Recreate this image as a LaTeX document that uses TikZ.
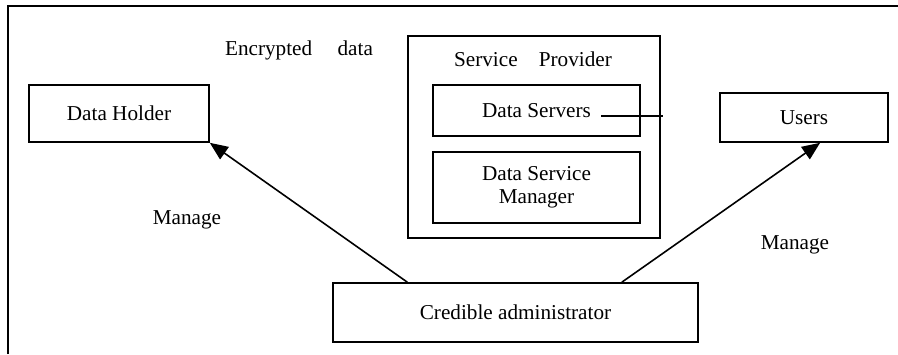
\documentclass[tikz,border=0pt]{standalone}
\usepackage{fontspec}
\setmainfont{Liberation Serif}
\usetikzlibrary{arrows.meta,calc}
\begin{document}
\begin{tikzpicture}[x=0.5pt,y=-0.5pt,
  every node/.style={font=\fontsize{10.6}{12.4}\selectfont, inner sep=0pt},
  box/.style={draw, line width=0.8pt, rectangle, align=center},
  arr/.style={line width=0.8pt, -{Triangle[length=9pt,width=7.5pt]}}]
\useasboundingbox (0,0) rectangle (898,354);
% outer frame (cut by the picture edge)
\coordinate (fbl) at (8,354);
\coordinate (ftl) at (8,6);
\coordinate (ftr) at (898,6);
\draw[line width=1pt] (fbl) -- (ftl) -- (ftr);
% service provider container
\node[box, minimum width=126pt, minimum height=101pt] (sp) at (534,137) {};
\node (sptext) at (533,59) {Service\hspace{1em}Provider};
\node[box, minimum width=103.5pt, minimum height=25.5pt] (ds) at (536.5,110.5) {Data Servers};
\node[box, minimum width=103.5pt, minimum height=35.5pt] (dsm) at (536.5,187.5) {Data Service\\[-1pt]Manager};
% other boxes
\node[box, minimum width=90pt, minimum height=28.5pt] (dh) at (119,113.5) {Data Holder};
\node[box, minimum width=84pt, minimum height=24.5pt] (users) at (804,117.5) {Users};
\node[box, minimum width=182.5pt, minimum height=29.5pt] (cred) at (515.5,312.5) {Credible administrator};
% labels
\node (enc) at (299,50) {Encrypted\hspace{1.2em}data};
\node (m1) at (187,220) {Manage};
\node (m2) at (795,245) {Manage};
% connectors
\draw[arr] ($(cred.north west)!0.205!(cred.north east)$) -- (dh.south east);
\draw[arr] ($(cred.north west)!0.79!(cred.north east)$) -- ($(users.south west)!0.595!(users.south east)$);
\coordinate (lnA) at (601,116);
\coordinate (lnB) at (663,116);
\draw[line width=0.8pt] (lnA) -- (lnB);
\end{tikzpicture}
\end{document}
